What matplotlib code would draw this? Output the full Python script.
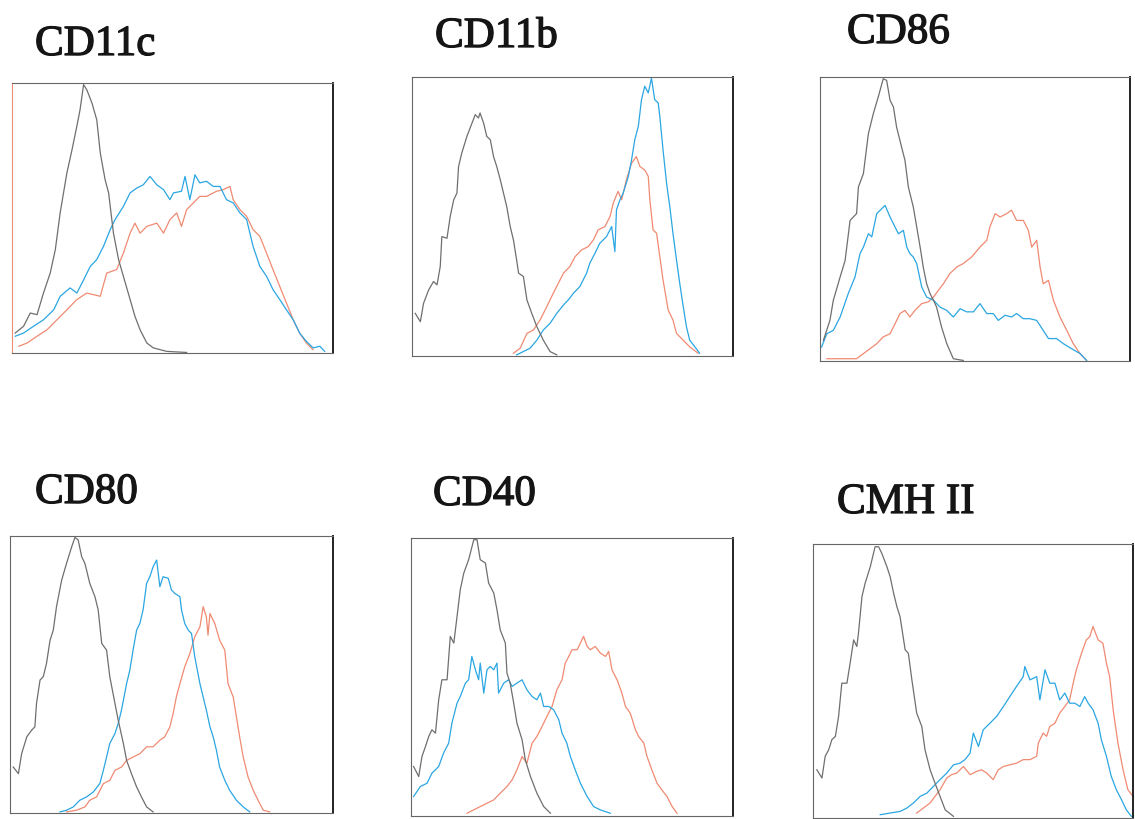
import numpy as np
import matplotlib
matplotlib.use("Agg")
import matplotlib.pyplot as plt
import matplotlib.patheffects as pe

W, H = 1135, 819

titles = ["CD11c", "CD11b", "CD86", "CD80", "CD40", "CMH II"]

# curves: (x %, y %) of each panel frame
cd11c_gray = [(1.0, 7.4), (3.6, 9.9), (5.7, 14.8), (7.8, 14.2), (9.8, 22.2), (11.9, 29.6), (13.5, 38.3), (15.0, 51.9), (17.1, 66.7), (18.7, 75.3), (20.2, 84.0), (21.2, 90.1), (22.3, 99.4), (23.3, 97.5), (24.9, 92.6), (26.4, 86.4), (27.5, 74.1), (29.0, 64.2), (30.1, 59.3), (31.6, 44.4), (33.2, 34.6), (34.7, 28.4), (36.8, 19.8), (38.3, 13.6), (39.9, 8.6), (42.0, 3.7), (44.0, 1.9), (48.2, 0.6), (54.4, 0.2)]
cd11c_blue = [(1.0, 6.2), (3.6, 7.4), (6.7, 9.9), (9.8, 12.3), (13.0, 16.0), (15.0, 21.0), (18.1, 24.1), (20.2, 22.2), (21.8, 25.9), (24.4, 32.1), (26.4, 34.6), (28.5, 39.5), (30.6, 45.7), (32.1, 49.4), (34.7, 54.3), (36.8, 59.3), (38.9, 61.1), (40.9, 62.3), (43.0, 65.4), (45.1, 62.3), (47.2, 60.5), (49.2, 56.8), (50.3, 59.3), (52.8, 59.9), (53.9, 65.4), (55.4, 56.8), (57.0, 66.0), (58.5, 63.0), (60.6, 63.6), (62.7, 61.7), (64.8, 61.7), (66.8, 56.8), (68.9, 55.6), (71.0, 51.9), (73.1, 49.4), (75.1, 39.5), (77.2, 32.1), (79.3, 28.4), (81.3, 23.5), (83.4, 19.8), (85.5, 16.0), (87.6, 12.3), (89.6, 7.4), (91.7, 4.3), (93.8, 1.9), (95.9, 2.5), (97.4, 0.6)]
cd11c_red = [(2.1, 2.5), (4.7, 3.7), (7.8, 6.2), (10.9, 8.6), (14.0, 12.3), (17.1, 16.0), (20.2, 19.8), (23.3, 22.2), (27.5, 21.0), (29.5, 29.6), (32.6, 30.9), (34.7, 37.0), (36.8, 44.4), (38.3, 48.1), (39.9, 44.4), (42.0, 46.9), (45.1, 48.1), (47.2, 44.4), (49.2, 49.4), (51.3, 51.9), (52.8, 46.9), (54.4, 53.1), (56.5, 55.6), (58.5, 58.0), (60.6, 58.0), (63.7, 59.9), (65.8, 60.5), (67.9, 61.7), (68.9, 56.8), (71.0, 53.1), (73.1, 50.6), (75.1, 45.7), (77.2, 43.2), (79.3, 37.0), (81.3, 30.9), (83.4, 24.7), (85.5, 18.5), (87.6, 12.3), (89.6, 7.4), (91.7, 3.7), (93.8, 1.2)]

cd11b_gray = [(1.0, 15.3), (2.6, 12.3), (3.6, 18.9), (5.2, 23.7), (6.7, 26.7), (7.8, 25.5), (8.8, 32.1), (9.3, 42.8), (10.9, 42.2), (11.9, 50.0), (13.0, 56.0), (14.0, 58.4), (14.5, 67.9), (15.5, 72.7), (17.1, 78.7), (18.7, 83.5), (19.7, 86.5), (20.7, 85.3), (21.2, 87.1), (22.3, 83.5), (23.3, 78.7), (24.4, 77.5), (25.4, 71.5), (26.4, 67.9), (27.5, 63.2), (29.0, 56.0), (29.5, 53.6), (30.6, 46.4), (31.6, 41.6), (32.6, 34.4), (33.2, 29.7), (34.7, 28.5), (35.8, 20.1), (37.3, 15.3), (38.9, 10.5), (40.9, 5.7), (43.0, 1.6), (45.1, 0.4)]
cd11b_blue = [(32.6, 0.4), (34.7, 1.6), (36.8, 2.8), (38.9, 5.7), (40.9, 9.3), (43.0, 11.7), (45.1, 15.3), (47.2, 18.3), (48.7, 20.1), (50.3, 22.5), (52.3, 24.9), (54.4, 29.7), (55.4, 33.3), (57.0, 36.8), (58.5, 40.4), (60.6, 42.8), (62.2, 46.4), (63.2, 37.4), (63.7, 52.4), (64.8, 56.0), (65.8, 58.4), (67.4, 64.4), (68.4, 70.3), (69.4, 77.5), (70.5, 82.3), (71.5, 91.9), (72.5, 96.7), (73.6, 94.3), (74.6, 99.6), (75.6, 91.9), (76.7, 90.7), (77.2, 85.9), (78.2, 73.9), (79.3, 62.0), (80.3, 53.6), (81.3, 44.0), (82.4, 34.4), (83.4, 26.1), (84.5, 17.7), (85.5, 10.5), (86.5, 5.7), (88.1, 3.3), (89.6, 1.0)]
cd11b_red = [(31.6, 1.0), (33.7, 2.8), (35.8, 8.1), (37.8, 9.3), (39.9, 12.9), (42.0, 17.7), (44.0, 22.5), (45.6, 26.1), (47.2, 29.7), (49.2, 32.1), (50.8, 35.6), (52.8, 38.0), (54.9, 39.2), (56.5, 41.6), (58.0, 45.2), (60.1, 46.4), (61.7, 50.0), (62.7, 54.8), (64.2, 59.0), (65.3, 56.0), (66.8, 63.2), (68.4, 69.1), (69.9, 71.5), (71.0, 67.9), (72.5, 66.7), (73.6, 64.4), (74.1, 56.0), (75.1, 45.2), (76.2, 44.0), (77.2, 35.6), (78.2, 27.3), (79.8, 16.5), (81.3, 12.9), (82.4, 8.1), (86.5, 3.3), (89.1, 1.0)]

cd86_gray = [(1.1, 7.3), (3.2, 14.3), (4.3, 21.4), (6.5, 29.6), (8.1, 35.4), (9.7, 49.5), (11.8, 51.9), (12.4, 61.3), (14.0, 66.0), (15.6, 80.0), (17.2, 87.1), (18.8, 93.0), (20.4, 99.4), (21.5, 98.8), (22.6, 91.8), (23.7, 89.4), (24.7, 82.4), (26.3, 75.4), (27.4, 70.7), (28.5, 61.3), (30.1, 54.2), (31.2, 47.2), (32.3, 40.1), (33.3, 33.1), (34.4, 27.2), (35.5, 23.7), (36.6, 21.4), (37.6, 19.0), (39.2, 12.0), (40.9, 6.1), (43.0, 0.8), (46.2, 0.2)]
cd86_blue = [(0.5, 4.9), (2.2, 9.6), (4.3, 10.8), (6.5, 15.5), (9.1, 23.7), (11.3, 29.6), (12.9, 37.8), (14.0, 40.1), (15.6, 44.8), (16.7, 43.7), (18.3, 51.9), (21.0, 54.8), (22.6, 50.7), (24.2, 47.2), (25.3, 44.8), (26.9, 46.0), (28.0, 40.1), (29.0, 37.8), (30.1, 36.6), (31.2, 34.3), (32.8, 26.1), (34.4, 22.5), (36.6, 21.4), (38.7, 19.0), (40.9, 17.8), (43.0, 15.5), (45.2, 18.4), (47.3, 17.3), (49.5, 17.3), (51.6, 20.2), (53.8, 16.7), (55.9, 16.7), (57.5, 14.3), (59.7, 16.1), (61.8, 15.5), (63.4, 16.7), (65.6, 14.9), (67.7, 14.9), (69.9, 14.3), (72.0, 10.8), (73.7, 7.9), (76.3, 7.9), (78.5, 6.1), (81.2, 4.3), (83.9, 2.6), (86.0, 0.2)]
cd86_red = [(2.2, 0.8), (11.8, 0.8), (14.0, 2.6), (16.1, 4.3), (18.3, 6.1), (20.4, 8.5), (22.6, 9.6), (24.2, 13.1), (25.8, 16.7), (27.4, 17.8), (29.0, 15.5), (30.6, 17.8), (32.8, 20.2), (34.9, 20.8), (36.6, 22.5), (38.2, 24.9), (39.8, 27.2), (41.9, 30.8), (44.1, 33.1), (46.2, 34.3), (48.9, 36.6), (51.6, 40.1), (53.8, 42.5), (54.8, 47.2), (56.5, 51.9), (58.1, 50.7), (60.2, 51.9), (61.8, 53.1), (63.4, 49.5), (65.6, 49.5), (67.2, 46.0), (68.3, 40.1), (69.9, 42.5), (71.0, 33.1), (72.0, 27.2), (73.7, 28.4), (75.3, 21.4), (77.4, 15.5), (79.6, 10.8), (81.7, 6.1), (83.9, 2.6), (86.0, 0.2)]

cd80_gray = [(1.0, 16.6), (2.6, 14.2), (3.6, 21.4), (5.2, 27.5), (6.7, 29.9), (7.7, 31.1), (8.2, 39.5), (9.3, 48.0), (10.3, 49.2), (11.3, 54.0), (12.4, 62.4), (13.4, 66.0), (14.4, 74.5), (16.0, 84.1), (17.5, 90.1), (19.1, 96.1), (20.1, 99.5), (21.1, 98.6), (22.2, 92.5), (23.2, 90.1), (24.7, 82.9), (26.3, 78.1), (27.3, 73.3), (28.4, 61.2), (29.9, 58.8), (30.9, 49.2), (32.5, 39.5), (33.5, 33.5), (35.1, 25.1), (36.1, 19.0), (37.6, 14.2), (39.2, 9.4), (40.7, 5.8), (42.3, 2.2), (44.3, 0.4)]
cd80_blue = [(15.5, 0.4), (17.5, 1.0), (19.6, 2.2), (21.6, 4.6), (23.7, 5.8), (25.8, 7.6), (27.8, 10.6), (28.9, 15.4), (29.9, 20.2), (30.9, 25.1), (32.5, 28.7), (33.5, 32.3), (34.5, 37.1), (36.1, 46.7), (37.1, 51.6), (38.1, 58.8), (39.2, 66.0), (40.2, 68.4), (41.2, 73.3), (42.3, 82.9), (43.3, 85.3), (44.3, 88.9), (45.4, 91.3), (46.4, 81.7), (47.4, 85.3), (49.0, 84.7), (50.0, 80.5), (51.0, 79.3), (52.6, 78.1), (53.1, 73.3), (54.1, 68.4), (55.2, 66.0), (56.2, 64.8), (57.2, 56.4), (58.8, 46.7), (59.8, 41.9), (60.8, 37.1), (61.9, 31.1), (62.9, 27.5), (63.9, 22.7), (64.9, 16.6), (66.5, 11.8), (68.0, 8.2), (70.1, 4.6), (72.2, 2.2), (74.2, 0.4)]
cd80_red = [(17.5, 0.4), (20.6, 1.0), (23.2, 2.2), (24.7, 4.6), (26.8, 5.8), (28.9, 10.6), (30.9, 11.8), (32.5, 15.4), (34.5, 16.6), (36.1, 19.0), (38.1, 20.2), (40.2, 21.4), (42.3, 23.9), (44.3, 23.9), (46.4, 26.3), (47.9, 27.5), (49.5, 31.1), (50.5, 35.9), (51.5, 41.9), (52.6, 46.7), (54.1, 52.8), (55.7, 57.6), (57.2, 63.6), (58.8, 67.2), (59.8, 74.5), (60.8, 70.8), (61.3, 64.2), (61.9, 72.0), (63.4, 68.4), (64.9, 62.4), (66.5, 58.8), (67.5, 46.7), (69.1, 41.9), (70.1, 34.7), (71.1, 27.5), (72.2, 20.2), (73.7, 13.0), (75.3, 8.2), (76.8, 4.6), (78.4, 1.0), (80.4, 0.4)]

cd40_gray = [(0.8, 17.8), (2.4, 14.2), (3.4, 21.4), (4.5, 25.0), (5.5, 28.6), (6.5, 31.0), (7.6, 29.8), (8.6, 41.8), (9.6, 49.0), (11.2, 49.0), (12.2, 64.6), (13.3, 62.2), (14.3, 71.8), (15.3, 81.4), (16.4, 87.4), (17.9, 92.2), (19.5, 99.4), (20.5, 99.4), (21.5, 92.2), (23.1, 91.0), (24.1, 83.8), (25.7, 80.2), (26.7, 74.2), (27.7, 67.0), (29.3, 62.2), (29.8, 51.4), (30.8, 47.8), (31.9, 40.6), (32.9, 33.4), (34.5, 27.4), (35.5, 20.2), (37.1, 14.2), (39.1, 8.2), (41.2, 3.4), (43.3, 1.0)]
cd40_blue = [(0.8, 7.0), (2.9, 10.6), (5.0, 11.8), (6.5, 15.4), (8.6, 17.8), (10.1, 22.6), (11.7, 26.2), (12.7, 33.4), (14.3, 40.6), (15.3, 43.0), (16.9, 47.8), (17.9, 49.0), (18.9, 57.4), (20.0, 52.6), (21.0, 49.0), (21.5, 55.0), (22.6, 44.2), (23.6, 52.6), (24.6, 53.8), (25.7, 52.6), (26.7, 55.0), (27.2, 44.2), (28.8, 47.8), (30.3, 49.0), (31.4, 46.6), (32.9, 47.8), (34.5, 49.0), (36.0, 45.4), (37.6, 43.0), (39.1, 41.8), (40.2, 44.2), (41.2, 39.4), (42.8, 39.4), (44.3, 38.2), (45.9, 34.6), (46.9, 29.8), (48.4, 26.2), (49.5, 21.4), (51.0, 16.6), (52.6, 11.8), (54.7, 7.0), (56.7, 3.4), (58.8, 2.2), (61.9, 1.0)]
cd40_red = [(17.4, 1.0), (20.5, 2.8), (23.6, 4.6), (25.7, 5.8), (27.7, 8.2), (29.8, 10.6), (31.4, 13.0), (32.9, 16.6), (34.5, 21.4), (36.0, 19.0), (37.6, 26.2), (39.1, 28.6), (40.7, 32.2), (42.2, 35.8), (43.8, 39.4), (45.3, 45.4), (46.9, 49.0), (47.9, 55.0), (49.0, 57.4), (50.0, 59.8), (51.6, 59.8), (52.6, 62.2), (53.6, 64.6), (54.7, 61.0), (55.7, 59.8), (57.2, 61.0), (58.8, 58.6), (60.4, 57.4), (61.4, 59.2), (62.4, 52.6), (64.0, 49.0), (65.5, 44.2), (66.6, 39.4), (68.1, 37.0), (69.7, 31.0), (70.7, 28.6), (72.3, 26.2), (73.3, 21.4), (74.8, 16.6), (76.4, 11.8), (77.9, 9.4), (79.5, 7.0), (81.1, 3.4), (82.6, 1.0)]

cmh_gray = [(1.2, 17.6), (2.8, 14.6), (3.8, 22.5), (4.9, 24.9), (5.9, 28.6), (7.0, 29.8), (8.0, 37.1), (9.0, 49.2), (10.6, 49.2), (11.6, 56.5), (12.7, 65.0), (13.7, 62.6), (14.2, 67.4), (15.3, 80.8), (16.3, 85.7), (17.9, 91.7), (19.4, 99.0), (20.5, 99.0), (21.5, 96.6), (23.1, 91.7), (24.1, 88.1), (25.2, 82.0), (26.2, 77.2), (27.2, 73.5), (28.8, 61.4), (29.8, 60.1), (30.9, 50.4), (32.4, 38.3), (34.0, 33.4), (35.0, 24.9), (36.6, 17.6), (38.1, 12.8), (39.7, 7.9), (41.3, 3.0), (43.9, 0.6)]
cmh_blue = [(21.0, 1.2), (24.1, 1.8), (27.2, 2.4), (29.3, 3.6), (31.4, 5.5), (33.5, 7.9), (35.6, 9.1), (37.6, 11.5), (39.7, 14.0), (41.8, 16.4), (43.9, 19.4), (45.9, 20.0), (47.5, 21.3), (49.1, 23.7), (50.1, 31.0), (51.7, 26.1), (53.2, 32.2), (55.3, 34.6), (57.4, 37.1), (59.5, 40.7), (61.5, 44.3), (63.6, 48.0), (65.7, 51.6), (66.2, 55.3), (67.8, 50.4), (69.9, 51.6), (70.9, 43.1), (72.5, 54.1), (74.0, 49.2), (75.6, 49.2), (77.1, 43.1), (78.7, 45.6), (80.2, 41.9), (81.8, 41.9), (83.4, 40.7), (84.9, 44.3), (86.0, 41.9), (87.5, 39.5), (89.1, 34.6), (90.1, 28.6), (91.7, 22.5), (93.2, 15.2), (94.8, 10.3), (96.4, 6.7), (97.9, 3.0), (99.5, 0.6)]
cmh_red = [(32.4, 1.8), (36.6, 5.5), (39.7, 10.3), (41.8, 14.6), (43.3, 15.8), (44.9, 16.4), (47.0, 18.8), (49.1, 15.8), (51.1, 17.0), (52.7, 17.6), (54.3, 16.4), (56.3, 14.0), (57.9, 17.6), (59.5, 18.8), (61.5, 19.4), (63.6, 20.0), (65.7, 21.3), (67.8, 21.3), (69.9, 22.5), (70.4, 27.3), (71.9, 31.0), (73.0, 29.8), (74.0, 33.4), (75.6, 34.6), (77.1, 38.3), (78.7, 40.7), (80.2, 43.1), (81.3, 49.2), (82.3, 54.1), (83.9, 60.1), (85.4, 65.0), (86.5, 66.2), (87.5, 69.9), (89.1, 65.0), (90.6, 63.8), (91.7, 56.5), (92.7, 51.6), (93.8, 39.5), (95.3, 27.3), (96.9, 17.6), (98.4, 10.3), (100.0, 7.9)]

panels = [
    (cd11c_gray, cd11c_blue, cd11c_red),
    (cd11b_gray, cd11b_blue, cd11b_red),
    (cd86_gray, cd86_blue, cd86_red),
    (cd80_gray, cd80_blue, cd80_red),
    (cd40_gray, cd40_blue, cd40_red),
    (cmh_gray, cmh_blue, cmh_red),
]

# frame boxes in pixels: left, top, right, bottom
boxes = [(12, 83, 333, 353), (412, 77, 733, 356), (820, 77, 1130, 361),
         (10, 536, 333, 813), (411, 538, 733, 816), (813, 544, 1133, 818)]
# title anchor: left x, baseline y (pixels)
title_pos = [(35, 55), (435, 47), (847, 43), (35, 503), (433, 505), (837, 513)]

colors = {"gray": "#6f6f6f", "blue": "#2aa6e2", "red": "#f08a72"}

fig = plt.figure(figsize=(W / 100, H / 100), dpi=100)

for i, (gray, blue, red) in enumerate(panels):
    l, t, r, b = boxes[i]
    ax = fig.add_axes([l / W, 1 - b / H, (r - l) / W, (b - t) / H])
    for data, c in ((red, colors["red"]), (blue, colors["blue"]), (gray, colors["gray"])):
        arr = np.array(data)
        ax.plot(arr[:, 0], arr[:, 1], color=c, lw=0.9)
    ax.set_xlim(0, 100)
    ax.set_ylim(0, 100)
    ax.set_xticks([])
    ax.set_yticks([])
    for side in ("top", "left", "bottom"):
        ax.spines[side].set_color("#666666")
        ax.spines[side].set_linewidth(0.8)
    ax.spines["right"].set_color("#222222")
    ax.spines["right"].set_linewidth(1.4)
    if i == 0:
        ax.spines["left"].set_color(colors["red"])
    tx, ty = title_pos[i]
    fig.text(tx / W, 1 - ty / H, titles[i], fontsize=31, family="Liberation Serif",
             ha="left", va="baseline", color="#151515",
             path_effects=[pe.withStroke(linewidth=0.9, foreground="#151515")])

fig.savefig("out.png", dpi=100)
